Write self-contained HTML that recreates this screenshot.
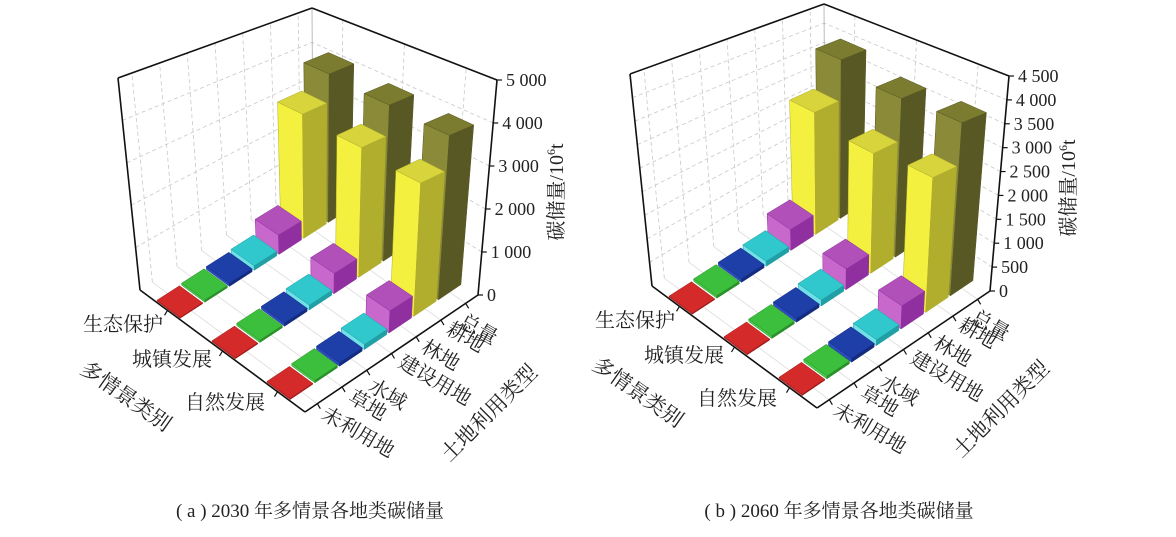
<!DOCTYPE html>
<html><head><meta charset="utf-8"><style>
html,body{margin:0;padding:0;background:#fff;}
svg{display:block;}
text{font-family:"Liberation Serif","Noto Serif CJK SC","Noto Sans CJK SC",serif;fill:#222;}
</style></head><body>
<svg id="fig" width="1176" height="537" viewBox="0 0 1176 537">
<g id="chartA"></g>
<g id="chartB" transform="translate(512,-4)"></g>
<g font-size="20">
 <text x="163" y="331" text-anchor="end">生态保护</text>
 <text x="212" y="366" text-anchor="end">城镇发展</text>
 <text x="265" y="409" text-anchor="end">自然发展</text>
 <text transform="translate(122,402) rotate(35)" text-anchor="middle" font-size="21">多情景类别</text>
 <text transform="translate(320,418) rotate(30)">未利用地</text>
 <text transform="translate(347,401) rotate(30)">草地</text>
 <text transform="translate(367,390) rotate(30)">水域</text>
 <text transform="translate(397,366) rotate(30)">建设用地</text>
 <text transform="translate(420,351) rotate(30)">林地</text>
 <text transform="translate(445,333) rotate(30)">耕地</text>
 <text transform="translate(458,325) rotate(30)">总量</text>
 <text transform="translate(494,418) rotate(-45)" text-anchor="middle" font-size="21">土地利用类型</text>
 <text transform="translate(563,192) rotate(-90)" text-anchor="middle" font-size="20">碳储量/10<tspan font-size="12" dy="-8">6</tspan><tspan dy="8">t</tspan></text>
</g>
<g font-size="20" transform="translate(512,-4)">
 <text x="163" y="331" text-anchor="end">生态保护</text>
 <text x="212" y="366" text-anchor="end">城镇发展</text>
 <text x="265" y="409" text-anchor="end">自然发展</text>
 <text transform="translate(122,402) rotate(35)" text-anchor="middle" font-size="21">多情景类别</text>
 <text transform="translate(320,418) rotate(30)">未利用地</text>
 <text transform="translate(347,401) rotate(30)">草地</text>
 <text transform="translate(367,390) rotate(30)">水域</text>
 <text transform="translate(397,366) rotate(30)">建设用地</text>
 <text transform="translate(420,351) rotate(30)">林地</text>
 <text transform="translate(445,333) rotate(30)">耕地</text>
 <text transform="translate(458,325) rotate(30)">总量</text>
 <text transform="translate(494,418) rotate(-45)" text-anchor="middle" font-size="21">土地利用类型</text>
 <text transform="translate(563,192) rotate(-90)" text-anchor="middle" font-size="20">碳储量/10<tspan font-size="12" dy="-8">6</tspan><tspan dy="8">t</tspan></text>
</g>
<text x="310" y="517" text-anchor="middle" font-size="19">( a ) 2030 年多情景各地类碳储量</text>
<text x="839" y="517" text-anchor="middle" font-size="19">( b ) 2060 年多情景各地类碳储量</text>
</svg>
<script>
// categories
const landTypes = ['未利用地','草地','水域','建设用地','林地','耕地','总量'];
const scenarios = ['自然发展','城镇发展','生态保护'];
// 2030 values, order: 自然发展, 城镇发展, 生态保护
const unused2030 = [20, 20, 20];
const grass2030 = [50, 50, 50];
const water2030 = [70, 70, 70];
const built2030 = [110, 110, 110];
const forest2030 = [480, 470, 480];
const crop2030 = [2970, 3100, 3200];
const total2030 = [3780, 3850, 3950];
// 2060 values
const unused2060 = [20, 20, 20];
const grass2060 = [50, 50, 50];
const water2060 = [70, 70, 70];
const built2060 = [110, 120, 110];
const forest2060 = [450, 430, 470];
const crop2060 = [2700, 2580, 2830];
const total2060 = [3580, 3520, 3800];
// y ticks
const ticks2030 = [0, 1000, 2000, 3000, 4000, 5000];
const tickLabels2030 = ['0','1 000','2 000','3 000','4 000','5 000'];
const ticks2060 = [0,500,1000,1500,2000,2500,3000,3500,4000,4500];
const tickLabels2060 = ['0','500','1 000','1 500','2 000','2 500','3 000','3 500','4 000','4 500'];

const NS = 'http://www.w3.org/2000/svg';
const COLORS = [
  ['#d42a2a','#e23434','#a01818'],
  ['#3cbf3c','#4ccc4c','#2a902a'],
  ['#1e3fa8','#2a4cc0','#142c80'],
  ['#30c8cc','#6fe0e8','#20a0a4'],
  ['#b050b8','#c868cc','#9030a0'],
  ['#d8d43c','#f4f040','#b0ae2c'],
  ['#7c7c30','#8a8a38','#585824']
];
const BOX = {F:[305,412],R:[478,295],L:[140,290],B:[313,180],
             Ft:[305,147],Rt:[497,80],Lt:[118,78],Bt:[312,8]};

function bil(a,b,c,d,u,v){
  return [a[0]*(1-u)*(1-v)+b[0]*u*(1-v)+c[0]*(1-u)*v+d[0]*u*v,
          a[1]*(1-u)*(1-v)+b[1]*u*(1-v)+c[1]*(1-u)*v+d[1]*u*v];
}
function P(u,v,w){
  const b=bil(BOX.F,BOX.R,BOX.L,BOX.B,u,v), t=bil(BOX.Ft,BOX.Rt,BOX.Lt,BOX.Bt,u,v);
  return [b[0]+(t[0]-b[0])*w, b[1]+(t[1]-b[1])*w];
}
function poly(g, pts, fill, stroke){
  const el=document.createElementNS(NS,'polygon');
  el.setAttribute('points', pts.map(p=>p[0].toFixed(1)+','+p[1].toFixed(1)).join(' '));
  el.setAttribute('fill', fill);
  el.setAttribute('stroke', stroke||'none');
  el.setAttribute('stroke-width','0.5');
  g.appendChild(el);
  return el;
}
function line(g,a,b,color,wd,dash){
  const el=document.createElementNS(NS,'line');
  el.setAttribute('x1',a[0]);el.setAttribute('y1',a[1]);
  el.setAttribute('x2',b[0]);el.setAttribute('y2',b[1]);
  el.setAttribute('stroke',color);el.setAttribute('stroke-width',wd);
  if(dash) el.setAttribute('stroke-dasharray',dash);
  g.appendChild(el);
  return el;
}

function build(gid, series, yMax, ticks, tickLabels){
  const g=document.getElementById(gid);
  const wl=(v)=>v/yMax;
  const lw=poly(g,[P(0,1,0),P(1,1,0),P(1,1,1),P(0,1,1)],'#fff');
  
  
  const rw=poly(g,[P(1,0,0),P(1,1,0),P(1,1,1),P(1,0,1)],'#fff');
  
  
  ticks.forEach(t=>{
    const w=wl(t);
    if(w>0&&w<1){
      line(g,P(0,1,w),P(1,1,w),'#c8c8c8',0.8,'4,3');
      line(g,P(1,0,w),P(1,1,w),'#c8c8c8',0.8,'4,3');
    }
  });
  landTypes.forEach((c,i)=>{
    const u=(i+0.5)/landTypes.length;
    line(g,P(u,1,0),P(u,1,1),'#c8c8c8',0.8,'4,3');
    line(g,P(u,0,0),P(u,1,0),'#dcdcdc',0.8);
  });
  scenarios.forEach((s,j)=>{
    const v=(j+0.5)/scenarios.length;
    line(g,P(1,v,0),P(1,v,1),'#c8c8c8',0.8,'4,3');
    line(g,P(0,v,0),P(1,v,0),'#dcdcdc',0.8);
  });
  line(g,P(1,1,0),P(1,1,1),'#aaa',0.8);
  line(g,P(0,1,1),P(1,1,1),'#111',1.6);
  line(g,P(1,1,1),P(1,0,1),'#111',1.6);
  line(g,P(0,1,0),P(0,1,1),'#111',1.6);
  line(g,P(1,0,0),P(1,0,1),'#111',1.6);
  ticks.forEach((t,k)=>{
    const p=P(1,0,wl(t));
    line(g,p,[p[0]+5,p[1]],'#111',1.2);
    const tx=document.createElementNS(NS,'text');
    tx.setAttribute('x',p[0]+9);tx.setAttribute('y',p[1]+6);
    tx.setAttribute('font-size','18');
    
    
    tx.textContent=tickLabels[k];
    g.appendChild(tx);
  });
  const bars=[];
  const du=0.13, dv=0.14;
  series.forEach((vals,i)=>{
    vals.forEach((val,j)=>{
      const uc=(i+0.5)/landTypes.length, vc=(j+0.5)/scenarios.length;
      bars.push({i,j,val,u0:uc-du/2,u1:uc+du/2,v0:vc-dv/2,v1:vc+dv/2,key:uc+vc});
    });
  });
  bars.sort((a,b)=>b.key-a.key);
  bars.forEach(b=>{
    const h=wl(b.val), c=COLORS[b.i];
    const bg=document.createElementNS(NS,'g');
    
    
    poly(bg,[P(b.u0,b.v0,0),P(b.u0,b.v1,0),P(b.u0,b.v1,h),P(b.u0,b.v0,h)],c[1],c[2]);
    poly(bg,[P(b.u0,b.v0,0),P(b.u1,b.v0,0),P(b.u1,b.v0,h),P(b.u0,b.v0,h)],c[2],c[2]);
    poly(bg,[P(b.u0,b.v0,h),P(b.u1,b.v0,h),P(b.u1,b.v1,h),P(b.u0,b.v1,h)],c[0],c[2]);
    g.appendChild(bg);
  });
  line(g,P(0,1,0),P(0,0,0),'#111',1.6);
  line(g,P(0,0,0),P(1,0,0),'#111',1.6);
  landTypes.forEach((c,i)=>{
    const p=P((i+0.5)/landTypes.length,0,0);
    line(g,p,[p[0]+3,p[1]+5],'#111',1.2);
  });
  scenarios.forEach((s,j)=>{
    const p=P(0,(j+0.5)/scenarios.length,0);
    line(g,p,[p[0]-3,p[1]+5],'#111',1.2);
  });
}
build('chartA',[unused2030,grass2030,water2030,built2030,forest2030,crop2030,total2030],5000,ticks2030,tickLabels2030);
build('chartB',[unused2060,grass2060,water2060,built2060,forest2060,crop2060,total2060],4500,ticks2060,tickLabels2060);
</script>
</body></html>
